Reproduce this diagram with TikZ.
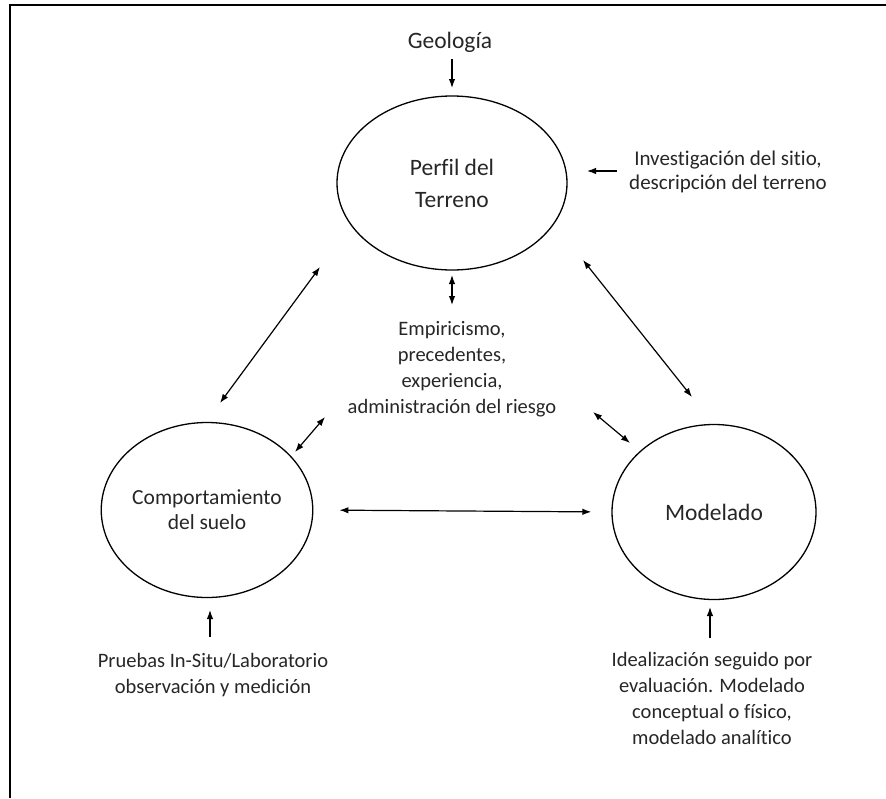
\documentclass[tikz,border=0pt]{standalone}
\usepackage{fontspec}
\setmainfont{Carlito}[Ligatures=NoCommon]
\usetikzlibrary{arrows.meta,shapes.geometric}

\begin{document}
\begin{tikzpicture}[x=1pt,y=-1pt,
		bubble/.style={draw,ellipse,line width=1.3pt,align=center,inner sep=0pt,text=black!85},
		lbl/.style={align=center,inner sep=0pt,text=black!85,font=\fontsize{20.5}{26}\selectfont},
		big/.style={font=\fontsize{23.5}{32}\selectfont},
		flecha/.style={line width=1.2pt,-{Latex[length=9pt,width=6.5pt]}},
		doble/.style={line width=1.2pt,{Latex[length=9pt,width=6.5pt]}-{Latex[length=9pt,width=6.5pt]}}]
	\useasboundingbox (0,0) rectangle (886,798);
	% marco
	\draw[line width=2.6pt] (10,798) -- (10,5) -- (886,5);
	%CIRCULOS
	\node[bubble,big,minimum width=230,minimum height=174] (perfil) at (452,183) {Perfil del\\Terreno};
	\node[bubble,minimum width=195,minimum height=175,font=\fontsize{21.5}{25}\selectfont] (comp) at (207,510) {Comportamiento\\del suelo};
	\node[bubble,big,minimum width=204,minimum height=175] (model) at (714,512) {Modelado};
	%TEXTOS
	\node[lbl,big] (geo) at (450,42) {Geología};
	\node[lbl,font=\fontsize{21}{24}\selectfont] (invest) at (728,172) {Investigación del sitio,\\descripción del terreno};
	\node[lbl] (emp) at (452,369) {Empiricismo,\\precedentes,\\experiencia,\\administración del riesgo};
	\node[lbl] (pruebas) at (213,675) {Pruebas In-Situ/Laboratorio\\observación y medición};
	\node[lbl] (ideal) at (712,698) {Idealización seguido por\\evaluación. Modelado\\conceptual o físico,\\modelado analítico};
	% puntas de las flechas
	\coordinate (g1) at (452,59); \coordinate (g2) at (452,88);
	\coordinate (i1) at (617,171); \coordinate (i2) at (587,171);
	\coordinate (pc1) at (320,267); \coordinate (cp1) at (220,403);
	\coordinate (pm1) at (583,260); \coordinate (mp1) at (692,397);
	\coordinate (ce1) at (295,452); \coordinate (ec1) at (325,417);
	\coordinate (me1) at (630,443); \coordinate (em1) at (593,412);
	\coordinate (pe1) at (452,275); \coordinate (ep1) at (452,305);
	\coordinate (pr1) at (210,637); \coordinate (pr2) at (210,610);
	\coordinate (id1) at (710,638); \coordinate (id2) at (710,607);
	%FLECHAS
	\draw[flecha] (g1) -- (g2);
	\draw[flecha] (i1) -- (i2);
	\draw[doble] (pe1) -- (ep1);
	\draw[doble] (pc1) -- (cp1);
	\draw[doble] (pm1) -- (mp1);
	\draw[doble] (ce1) -- (ec1);
	\draw[doble] (me1) -- (em1);
	\draw[doble,shorten <=26pt,shorten >=20pt] (comp.east) -- (model.west);
	\draw[flecha] (pr1) -- (pr2);
	\draw[flecha] (id1) -- (id2);
\end{tikzpicture}
\end{document}
